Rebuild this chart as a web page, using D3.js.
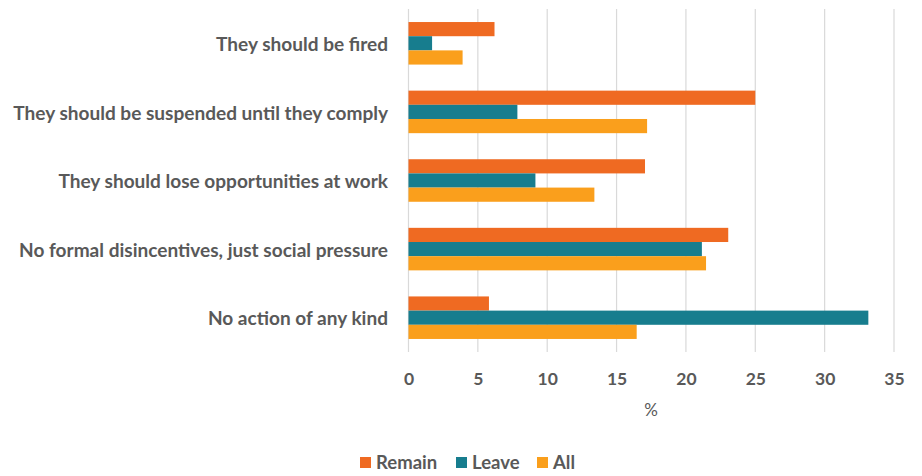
<!DOCTYPE html>
<html><head><meta charset="utf-8">
<script src="https://cdn.jsdelivr.net/npm/d3@7"></script>
<style>body{margin:0;background:#fff}svg{display:block}</style>
</head><body>
<svg id="c" width="922" height="476"></svg>
<script>
const categories = ["They should be fired","They should be suspended until they comply","They should lose opportunities at work","No formal disincentives, just social pressure","No action of any kind"];
const seriesNames = ["Remain","Leave","All"];
const remain = [6.2, 25.0, 17.05, 23.05, 5.8];
const leave = [1.7, 7.85, 9.15, 21.15, 33.15];
const all = [3.9, 17.2, 13.4, 21.45, 16.45];
const xTicks = [0,5,10,15,20,25,30,35];
const colors = ["#EF6A22","#177D8E","#FA9F1C"];
const seriesVals = [remain, leave, all];

const svg = d3.select("#c");
const font = "Lato, 'Open Sans', sans-serif";
const textCol = "#595959";
const x = d3.scaleLinear().domain([0,35]).range([408.5, 894]);
const y = d3.scaleBand().domain(categories).range([9, 352]).paddingInner(0.38).paddingOuter(0.19);
const ys = d3.scaleBand().domain(seriesNames).range([0, y.bandwidth()]);

// gridlines
svg.append("g").selectAll("line").data(xTicks).join("line")
  .attr("x1", d=>x(d)).attr("x2", d=>x(d)).attr("y1", 9).attr("y2", 352)
  .attr("stroke", "#d9d9d9").attr("stroke-width", 1.2);

// bars
const groups = svg.append("g").selectAll("g").data(categories).join("g")
  .attr("transform", d=>`translate(0,${y(d)})`);
groups.selectAll("rect").data((d,i)=>seriesNames.map((s,j)=>({s, v: seriesVals[j][i], j})))
  .join("rect")
  .attr("x", x(0)).attr("y", d=>ys(d.s)).attr("height", ys.bandwidth())
  .attr("width", d=>x(d.v)-x(0)).attr("fill", d=>colors[d.j]);

// category labels
const cl = svg.append("g").selectAll("text").data(categories).join("text")
  .attr("x", 388).attr("y", d=>y(d)+y.bandwidth()/2+1).attr("dy","0.35em")
  .attr("text-anchor","end").attr("font-family", font).attr("font-weight","bold")
  .attr("font-size", 16).attr("fill", textCol).text(d=>d);
let maxW = 0; cl.each(function(){ maxW = Math.max(maxW, this.getComputedTextLength()); });
cl.attr("font-size", 16*375/maxW);

// x axis tick labels
const axis = d3.axisBottom(x).tickValues(xTicks).tickSize(0).tickPadding(0);
const ag = svg.append("g").attr("transform","translate(0,373)").call(axis);
ag.select(".domain").remove();
ag.selectAll("text").attr("font-family", font).attr("font-weight","bold").attr("font-size",17.5).attr("fill",textCol);

svg.append("text").attr("x", 651).attr("y", 416).attr("text-anchor","middle")
  .attr("font-family", font).attr("font-size",17).attr("fill",textCol).text("%");

// legend
const legX = [360, 456, 537];
const lg = svg.append("g").selectAll("g").data(seriesNames).join("g")
  .attr("transform",(d,i)=>`translate(${legX[i]},457)`);
lg.append("rect").attr("width",11).attr("height",11).attr("fill",(d,i)=>colors[i]);
lg.append("text").attr("x",16).attr("y",6).attr("dy","0.35em")
  .attr("font-family", font).attr("font-weight","bold").attr("font-size",18.5).attr("fill",textCol).text(d=>d);
</script>
</body></html>
